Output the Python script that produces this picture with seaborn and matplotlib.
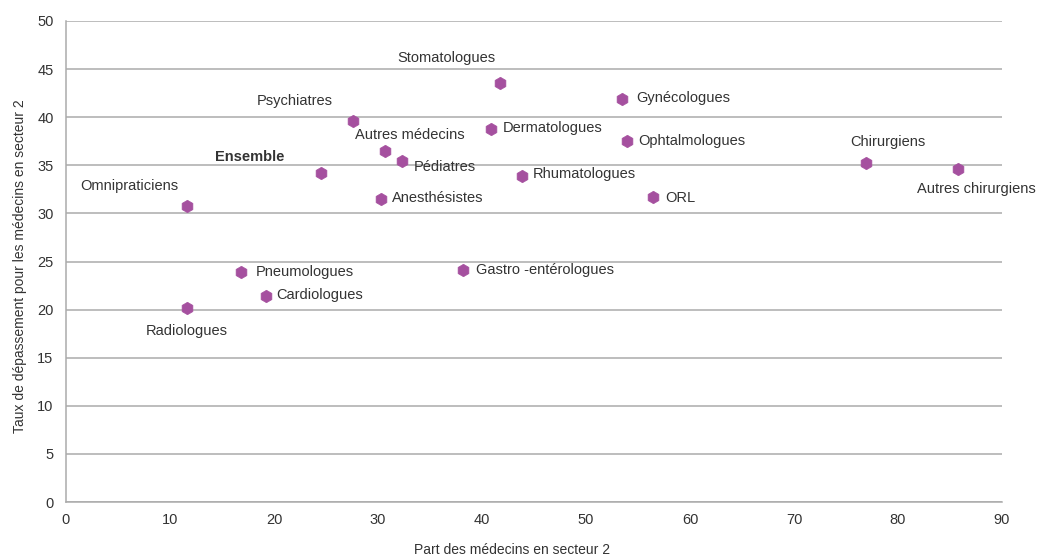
import matplotlib
matplotlib.use("Agg")
import matplotlib.pyplot as plt
import seaborn as sns
import pandas as pd

# ---- data ----
specialites = ["Omnipraticiens", "Radiologues", "Pneumologues", "Cardiologues", "Ensemble",
               "Psychiatres", "Autres médecins", "Pédiatres", "Anesthésistes", "Stomatologues",
               "Dermatologues", "Rhumatologues", "Gastro -entérologues", "Gynécologues",
               "Ophtalmologues", "ORL", "Chirurgiens", "Autres chirurgiens"]
part_secteur2 = [11.6, 11.6, 16.8, 19.2, 24.5, 27.6, 30.7, 32.3, 30.3, 41.7,
                 40.9, 43.8, 38.2, 53.5, 53.9, 56.4, 76.9, 85.8]
taux_depassement = [30.8, 20.2, 23.9, 21.4, 34.2, 39.6, 36.5, 35.4, 31.5, 43.6,
                    38.8, 33.9, 24.1, 41.9, 37.5, 31.7, 35.2, 34.6]
x_ticks = [0, 10, 20, 30, 40, 50, 60, 70, 80, 90]
y_ticks = [0, 5, 10, 15, 20, 25, 30, 35, 40, 45, 50]

df = pd.DataFrame({"spec": specialites, "x": part_secteur2, "y": taux_depassement})

# label placement: (dx px, dy px, ha)
label_pos = {
    "Omnipraticiens": (-57, 20, "center"),
    "Radiologues": (0, -23, "center"),
    "Pneumologues": (15, 0, "left"),
    "Cardiologues": (11, 1, "left"),
    "Ensemble": (-71, 16, "center"),
    "Psychiatres": (-58, 20, "center"),
    "Autres médecins": (25, 16, "center"),
    "Pédiatres": (12, -6, "left"),
    "Anesthésistes": (11, 1, "left"),
    "Stomatologues": (-53, 25, "center"),
    "Dermatologues": (11, 1, "left"),
    "Rhumatologues": (11, 2, "left"),
    "Gastro -entérologues": (13, 0, "left"),
    "Gynécologues": (14, 1, "left"),
    "Ophtalmologues": (12, 0, "left"),
    "ORL": (13, -1, "left"),
    "Chirurgiens": (22, 21, "center"),
    "Autres chirurgiens": (18, -20, "center"),
}

sns.set_theme(style="white")
plt.rcParams["font.family"] = ["Liberation Sans", "DejaVu Sans"]

fig = plt.figure(figsize=(10.38, 5.58), dpi=100)
ax = fig.add_axes([66 / 1038, 56 / 558, 936 / 1038, 481 / 558])

sns.scatterplot(data=df, x="x", y="y", ax=ax, marker="h", s=80,
                color="#a5509f", edgecolor="#a5509f", linewidth=0.5, zorder=3)

txt_color = "#333333"
for name, xv, yv in zip(specialites, part_secteur2, taux_depassement):
    dx, dy, ha = label_pos[name]
    ax.annotate(name, (xv, yv), xytext=(dx, dy), textcoords="offset pixels",
                ha=ha, va="center", fontsize=10.5, color=txt_color,
                fontweight="bold" if name == "Ensemble" else "normal", zorder=4)

ax.set_xlim(0, 90)
ax.set_ylim(0, 50)
ax.set_xticks(x_ticks)
ax.set_yticks(y_ticks)
ax.set_xticklabels([str(t) for t in x_ticks], fontsize=10.5, color=txt_color)
ax.set_yticklabels([str(t) for t in y_ticks], fontsize=10.5, color=txt_color)

ax.yaxis.grid(True, color="#ababab", linewidth=1.1)
ax.xaxis.grid(False)
ax.set_axisbelow(True)

for side in ["top", "right"]:
    ax.spines[side].set_visible(False)
for side in ["left", "bottom"]:
    ax.spines[side].set_color("#ababab")
    ax.spines[side].set_linewidth(1.1)

ax.tick_params(axis="x", direction="in", length=5, width=1, color="#ababab", pad=8)
ax.tick_params(axis="y", length=0, pad=9)

ax.set_xlabel("Part des médecins en secteur 2", fontsize=10, color=txt_color)
ax.xaxis.set_label_coords(0.477, -0.085)
ax.set_ylabel("Taux de dépassement pour les médecins en secteur 2", fontsize=10,
              color=txt_color)
ax.yaxis.set_label_coords(-0.042, 0.49)

fig.savefig("out.png", dpi=100)
